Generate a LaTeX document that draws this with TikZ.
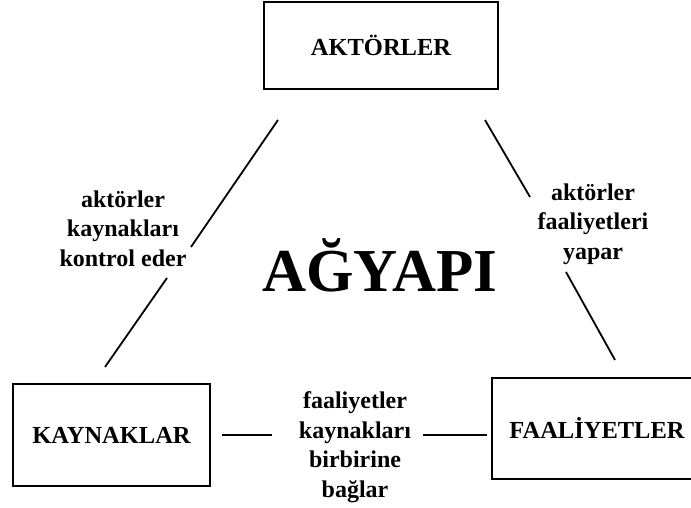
\documentclass[tikz,border=0pt]{standalone}
\usepackage{fontspec}
\setmainfont{Liberation Serif}
\begin{document}
\begin{tikzpicture}[x=1pt,y=1pt,
  box/.style={draw=black, line width=1.8pt, rectangle, inner sep=0pt,
              font=\fontsize{24.5}{29.5}\selectfont\bfseries},
  rel/.style={align=center, inner sep=0pt, font=\fontsize{24}{29.5}\selectfont\bfseries},
  link/.style={line width=1.8pt, black}]
  \useasboundingbox (0,0) rectangle (691,508);

  % actors, resources, activities
  \node[box, minimum width=234pt, minimum height=87pt] (akt) at (381,462.5) {AKTÖRLER};
  \node[box, minimum width=197pt, minimum height=102pt] (kay) at (111.5,73) {KAYNAKLAR};
  \node[box, minimum width=210pt, minimum height=101pt] (faa) at (597,79.5) {FAALİYETLER};

  % centre title
  \node[anchor=base, inner sep=0pt, font=\fontsize{61}{70}\selectfont\bfseries] (title) at (380,216) {AĞYAPI};

  % relation labels
  \node[rel] (lk) at (123,279.5) {aktörler\\kaynakları\\kontrol eder};
  \node[rel] (lf) at (593,284) {aktörler\\faaliyetleri\\yapar};
  \node[rel] (lb) at (355,61) {faaliyetler\\kaynakları\\birbirine\\bağlar};

  % end points of the broken connectors
  \coordinate (l1) at (278,388); \coordinate (l2) at (191,261);
  \coordinate (l3) at (167,230); \coordinate (l4) at (105,141);
  \coordinate (r1) at (485,388); \coordinate (r2) at (530,311);
  \coordinate (r3) at (566,236); \coordinate (r4) at (615,148);
  \coordinate (b1) at (222,73);  \coordinate (b2) at (272,73);
  \coordinate (b3) at (423,73);  \coordinate (b4) at (487,73);

  \draw[link] (l1) -- (l2);
  \draw[link] (l3) -- (l4);
  \draw[link] (r1) -- (r2);
  \draw[link] (r3) -- (r4);
  \draw[link] (b1) -- (b2);
  \draw[link] (b3) -- (b4);
\end{tikzpicture}
\end{document}
